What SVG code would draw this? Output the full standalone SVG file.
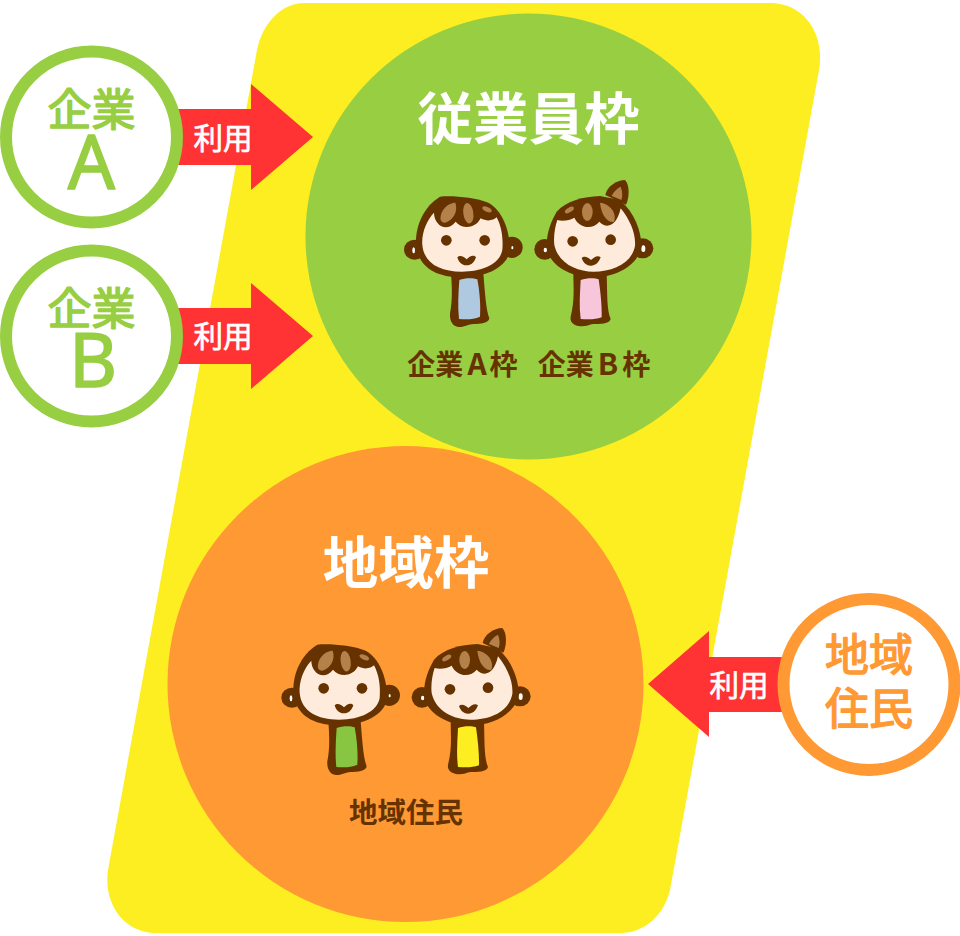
<svg xmlns="http://www.w3.org/2000/svg" xmlns:xlink="http://www.w3.org/1999/xlink" width="960" height="936" viewBox="0 0 960 936">
<style>
text{font-family:"Noto Sans CJK JP","Noto Sans",sans-serif;text-anchor:middle;stroke-linejoin:round}
.title{font-size:55.5px;font-weight:700;fill:#fff}
.sub{font-size:28px;font-weight:700;fill:#663300}
.use{font-size:29.500px;font-weight:400;fill:#fff;stroke:#fff;stroke-width:.7px}
.g{font-size:44px;font-weight:400;fill:#97ce42;stroke:#97ce42;stroke-width:1.500px}
.o{font-size:44px;font-weight:400;fill:#ff9933;stroke:#ff9933;stroke-width:1.500px}
.big{font-family:"Noto Sans",sans-serif;font-size:74px;font-weight:400;fill:#97ce42;stroke:#97ce42;stroke-width:1.500px}
.ring{fill:#fff;stroke-width:12}
.arrow{fill:#ff3333}
.d{fill:#663300}
.f{fill:#feebdc}
.h{fill:#b5814a}
.w{fill:#fff}
</style>
<defs>
<g id="boy">
<ellipse class="d" cx="74" cy="239" rx="32" ry="30"/><ellipse class="w" cx="71" cy="241" rx="4" ry="9"/>
<ellipse class="d" cx="366" cy="232" rx="32" ry="32"/><ellipse class="w" cx="367" cy="233" rx="3" ry="5"/>
<path class="d" d="M183,310L280,310C285,370 288,420 298,445C296,460 270,462 250,462C235,462 225,472 205,471C190,470 178,455 180,430C188,390 186,350 183,310Z"/>
<path class="d" d="M150,80C185,76 255,82 295,98C335,120 358,175 360,238C355,290 290,322 215,322C135,322 85,290 78,225C75,170 100,110 150,80Z"/>
<path class="f" d="M132,128C132,165 170,190 197,155C215,178 255,178 272,145C290,155 310,152 320,142C335,170 340,205 337,240C330,280 280,305 215,305C150,305 102,280 97,225C94,190 110,150 132,128Z"/>
<path class="h" d="M152,150C148,125 172,98 196,98C205,125 190,150 165,158C158,158 154,155 152,150Z"/>
<ellipse class="h" cx="235" cy="130" rx="15" ry="31" transform="rotate(-8 235 130)"/>
<ellipse class="h" cx="291" cy="118" rx="15" ry="7" transform="rotate(25 291 118)"/>
<circle class="d" cx="169" cy="211" r="16"/><circle class="d" cx="284" cy="211" r="16"/>
<path class="d" d="M202,262C210,254 222,260 230,268C238,260 250,252 258,262C252,280 240,287 230,286C218,287 206,278 202,262Z"/>
</g>
<g id="girl">
<path class="d" d="M646,75C650,50 680,30 705,30C720,45 718,85 708,104Z"/>
<path class="h" d="M665,78C670,65 682,55 692,50C698,65 698,80 694,90Z"/>
<ellipse class="d" cx="464" cy="238" rx="31" ry="31"/><ellipse class="w" cx="466" cy="240" rx="5" ry="7"/>
<ellipse class="d" cx="758" cy="235" rx="32" ry="30"/><ellipse class="w" cx="760" cy="236" rx="6" ry="10"/>
<path class="d" d="M550,310L650,310C652,370 650,420 662,447C658,462 630,462 610,462C595,464 585,472 565,468C548,464 540,455 542,440C555,390 550,350 550,310Z"/>
<path class="d" d="M630,78C580,80 530,92 500,125C480,160 465,200 472,245C490,295 550,322 610,322C680,322 745,285 755,228C752,180 735,130 690,90Z"/>
<path class="f" d="M502,150C520,155 540,150 553,143C570,178 610,178 628,155C650,178 680,170 692,115C720,150 738,190 735,228C725,280 670,305 610,305C560,305 505,280 493,225C490,200 495,170 502,150Z"/>
<path class="h" d="M630,98C655,100 682,125 672,155C660,160 635,145 630,98Z"/>
<ellipse class="h" cx="592" cy="126" rx="16" ry="27"/>
<ellipse class="h" cx="538" cy="120" rx="15" ry="7" transform="rotate(-30 538 120)"/>
<circle class="d" cx="548" cy="214" r="16"/><circle class="d" cx="662" cy="209" r="16"/>
<path class="d" d="M575,264C583,256 595,262 603,270C611,262 623,254 632,262C626,280 614,287 604,287C592,288 580,280 575,264Z"/>
</g>
</defs>
<path id="bg" fill="#fcee21" d="M305,3H770C805,3 825,35 819,70L670,890C664,915 645,933 620,933H155C125,933 103,905 108,870L257,50C262,25 280,3 305,3Z"/>
<g id="employee-frame">
<circle cx="528.500" cy="236.500" r="223" fill="#97ce42"/>
<text class="title" x="528.500" y="139">従業員枠</text>
<g transform="translate(390 170) scale(.33333)">
<use xlink:href="#boy" href="#boy"/>
<path fill="#aec9e0" d="M208,330C225,323 250,323 262,328C270,370 272,410 270,440C250,450 225,448 207,447C203,410 205,370 208,330Z"/>
<use xlink:href="#girl" href="#girl"/>
<path fill="#f7c6da" d="M572,330C590,323 615,323 626,328C632,370 636,410 635,442C615,450 590,448 572,447C567,410 570,370 572,330Z"/>
</g>
<text class="sub" x="462.500" y="375">企業<tspan dx="4" font-size="30">A</tspan><tspan dx="3">枠</tspan></text>
<text class="sub" x="594" y="375">企業<tspan dx="4" font-size="30">B</tspan><tspan dx="4">枠</tspan></text>
</g>
<g id="local-frame">
<circle cx="405.500" cy="684" r="238" fill="#ff9933"/>
<text class="title" x="406" y="583">地域枠</text>
<g transform="translate(267.33 618) scale(.33333)">
<use xlink:href="#boy" href="#boy"/>
<path fill="#88c540" d="M208,330C225,323 250,323 262,328C270,370 272,410 270,440C250,450 225,448 207,447C203,410 205,370 208,330Z"/>
<use xlink:href="#girl" href="#girl"/>
<path fill="#fcee21" d="M572,330C590,323 615,323 626,328C632,370 636,410 635,442C615,450 590,448 572,447C567,410 570,370 572,330Z"/>
</g>
<text class="sub" x="406" y="823" style="font-size:28.500px">地域住民</text>
</g>
<g id="connectors">
<path class="arrow" d="M170,109H251V84L313,137L251,190V165H170Z"/>
<path class="arrow" d="M170,308H251V283L313,336L251,389V364H170Z"/>
<path class="arrow" d="M790,657H709V631L648,684L709,737V712H790Z"/>
<text class="use" x="223" y="149">利用</text>
<text class="use" x="223" y="347">利用</text>
<text class="use" x="739" y="696">利用</text>
</g>
<g id="company-a">
<circle class="ring" cx="91.500" cy="137" r="85.500" stroke="#97ce42"/>
<text class="g" x="91.500" y="126">企業</text>
<text class="big" x="91.500" y="189">A</text>
</g>
<g id="company-b">
<circle class="ring" cx="91.500" cy="336" r="85.500" stroke="#97ce42"/>
<text class="g" x="91.500" y="325">企業</text>
<text class="big" x="93" y="387">B</text>
</g>
<g id="residents">
<circle class="ring" cx="869" cy="684.500" r="85.500" stroke="#ff9933"/>
<text class="o" x="869" y="671">地域</text>
<text class="o" x="869" y="725">住民</text>
</g>
</svg>
